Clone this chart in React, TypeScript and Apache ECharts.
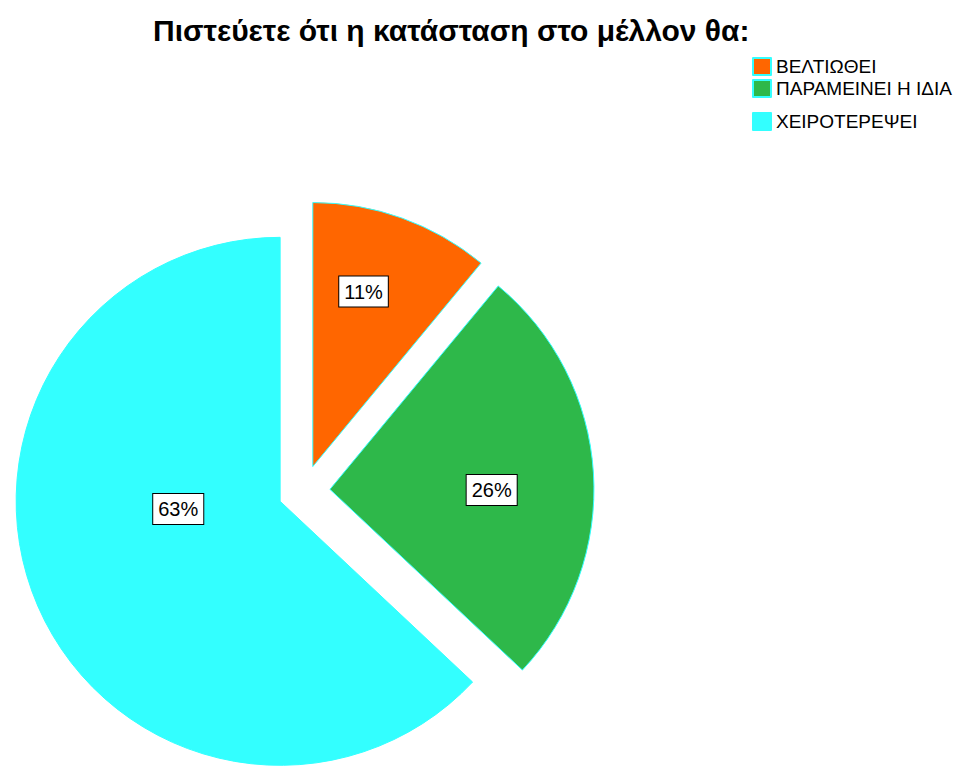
import React, { useEffect, useRef } from "react";
import * as echarts from "echarts";

const title = "Πιστεύετε ότι η κατάσταση στο μέλλον θα:";
const categories = ["ΒΕΛΤΙΩΘΕΙ", "ΠΑΡΑΜΕΙΝΕΙ Η ΙΔΙΑ", "ΧΕΙΡΟΤΕΡΕΨΕΙ"];
const values = [11, 26, 63];
const colors = ["#FF6600", "#2EB84A", "#33FFFF"];
const labelShifts = [[5, -48], [27, 9], [22, -46]];
const legendTops = [52, 74, 107];

const FONT = "Liberation Sans, Arial, sans-serif";

export default function App() {
  const ref = useRef<HTMLDivElement>(null);
  useEffect(() => {
    document.body.style.margin = "0";
    const chart = echarts.init(ref.current!, undefined, { renderer: "svg" });
    chart.setOption({
      animation: false,
      backgroundColor: "#ffffff",
      color: colors,
      title: {
        text: title,
        left: 148,
        top: 10,
        textStyle: { fontFamily: FONT, fontSize: 30, fontWeight: "bold", color: "#000" },
      },
      legend: categories.map((name, i) => ({
        orient: "vertical",
        left: 747,
        top: legendTops[i],
        itemWidth: 18,
        itemHeight: 17,
        itemGap: 6,
        selectedMode: false,
        icon: "rect",
        textStyle: { fontFamily: FONT, fontSize: 19, color: "#000", padding: [0, 0, 0, 0] },
        data: [name],
      })),
      series: [
        {
          type: "pie",
          center: [304, 491],
          radius: 264,
          startAngle: 90,
          clockwise: true,
          selectedMode: "multiple",
          selectedOffset: 26,
          emphasis: { disabled: true },
          itemStyle: { borderColor: "#33FFFF", borderWidth: 1 },
          label: {
            show: true,
            position: "inside",
            formatter: (p: any) => Math.round(p.percent) + "%",
            fontFamily: FONT,
            fontSize: 20,
            color: "#000",
            backgroundColor: "#fff",
            borderColor: "#000",
            borderWidth: 1,
            padding: [6, 5, 4, 5],
          },
          labelLayout: (p: any) => ({
            dx: labelShifts[p.dataIndex][0],
            dy: labelShifts[p.dataIndex][1],
          }),
          labelLine: { show: false },
          data: categories.map((name, i) => ({
            name,
            value: values[i],
            selected: true,
            itemStyle: { color: colors[i] },
            select: { itemStyle: { color: colors[i], borderColor: "#33FFFF", borderWidth: 1 } },
          })),
        },
      ],
    });
    return () => chart.dispose();
  }, []);
  return <div ref={ref} style={{ width: 957, height: 767 }} />;
}
